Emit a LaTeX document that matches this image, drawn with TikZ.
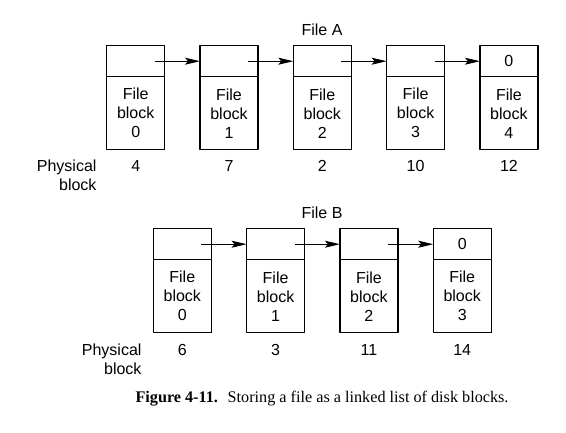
\documentclass[tikz,border=0pt]{standalone}
\usepackage{fontspec}
\setmainfont{Liberation Sans}
\newfontfamily\capfont{Liberation Serif}
\usetikzlibrary{positioning,arrows.meta}
\tikzset{
	ptr/.style={draw, line width=1.2pt, minimum width=58pt, minimum height=31pt, inner sep=0pt, outer sep=0pt},
	blk/.style={draw, line width=1.2pt, minimum width=58pt, minimum height=73pt, inner sep=0pt, outer sep=0pt, align=center},
	link/.style={-{Stealth[length=15pt,width=7pt,inset=3pt]}, line width=1pt}
}
\begin{document}
\begin{tikzpicture}[x=1pt, y=-1pt, font=\fontsize{16}{19}\selectfont, line join=round]
		\useasboundingbox (0,0) rectangle (566,432);
		% File A
		\node (fa) at (322,30) {File A};
		\node[ptr] (a0) at (135.7,61.2) {};
		\node[ptr] (a1) at (229,61.2) {};
		\node[ptr] (a2) at (322.3,61.2) {};
		\node[ptr] (a3) at (415.6,61.2) {};
		\node[ptr] (a4) at (508.9,61.2) {0};
		\node[blk, below=0pt of a0] (d0) {File\\block\\0};
		\node[blk, below=0pt of a1] (d1) {File\\block\\1};
		\node[blk, below=0pt of a2] (d2) {File\\block\\2};
		\node[blk, below=0pt of a3] (d3) {File\\block\\3};
		\node[blk, below=0pt of a4] (d4) {File\\block\\4};
		\draw[link] ([xshift=-10pt]a0.center-|a0.east) -- (a1.west);
		\draw[link] ([xshift=-10pt]a1.center-|a1.east) -- (a2.west);
		\draw[link] ([xshift=-10pt]a2.center-|a2.east) -- (a3.west);
		\draw[link] ([xshift=-10pt]a3.center-|a3.east) -- (a4.west);
		\node[anchor=east, align=right] (pa) at (100,175.5) {Physical\\block};
		\node (pa0) at (135.7,166) {4};
		\node (pa1) at (229,166) {7};
		\node (pa2) at (322.3,166) {2};
		\node (pa3) at (415.6,166) {10};
		\node (pa4) at (508.9,166) {12};
		% File B
		\node (fb) at (322,212.7) {File B};
		\node[ptr] (b0) at (182.3,244.2) {};
		\node[ptr] (b1) at (275.6,244.2) {};
		\node[ptr] (b2) at (368.9,244.2) {};
		\node[ptr] (b3) at (462.2,244.2) {0};
		\node[blk, below=0pt of b0] (e0) {File\\block\\0};
		\node[blk, below=0pt of b1] (e1) {File\\block\\1};
		\node[blk, below=0pt of b2] (e2) {File\\block\\2};
		\node[blk, below=0pt of b3] (e3) {File\\block\\3};
		\draw[link] ([xshift=-10pt]b0.center-|b0.east) -- (b1.west);
		\draw[link] ([xshift=-10pt]b1.center-|b1.east) -- (b2.west);
		\draw[link] ([xshift=-10pt]b2.center-|b2.east) -- (b3.west);
		\node[anchor=east, align=right] (pb) at (145,359) {Physical\\block};
		\node (pb0) at (182.3,350) {6};
		\node (pb1) at (275.6,350) {3};
		\node (pb2) at (368.9,350) {11};
		\node (pb3) at (462.2,350) {14};
		% caption
		\node[font=\capfont\fontsize{16.2}{19}\selectfont] (cap) at (322,399) {\textbf{Figure 4-11.}\hspace{0.6em}Storing a file as a linked list of disk blocks.};
\end{tikzpicture}
\end{document}
